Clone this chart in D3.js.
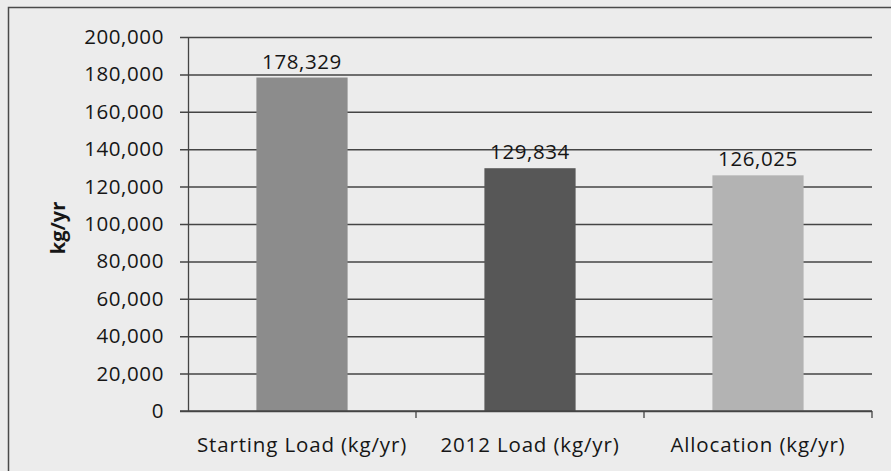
<!DOCTYPE html>
<html><head><meta charset="utf-8">
<script src="https://cdn.jsdelivr.net/npm/d3@7"></script>
<style>html,body{margin:0;padding:0;background:#eeeeee;}</style>
</head><body>
<svg id="chart" width="891" height="471"></svg>
<script>
const categories = ["Starting Load (kg/yr)", "2012 Load (kg/yr)", "Allocation (kg/yr)"];
const values = [178329, 129834, 126025];
const barColors = ["#8c8c8c", "#575757", "#b3b3b3"];
const yTicks = [0, 20000, 40000, 60000, 80000, 100000, 120000, 140000, 160000, 180000, 200000];
const yTitle = "kg/yr";

const svg = d3.select("#chart");
const W = 891, H = 471;
const m = {left: 188, right: 19, top: 37, bottom: 60};
const font = "'Open Sans', 'Lato', sans-serif";
const fs = 20.5, ls = 0.6;

svg.append("rect").attr("x", 0).attr("y", 0).attr("width", W).attr("height", H).attr("fill", "#ececec");
// outer border (top and left visible)
svg.append("path").attr("d", `M8.5,${H} L8.5,7.5 L${W},7.5`).attr("fill", "none").attr("stroke", "#4a4a4a").attr("stroke-width", 1.5);

const x = d3.scaleBand().domain(categories).range([m.left, W - m.right]).paddingInner(0.6).paddingOuter(0.3);
const y = d3.scaleLinear().domain([0, 200000]).range([H - m.bottom, m.top]);

// gridlines + y ticks
const yAxis = d3.axisLeft(y).tickValues(yTicks).tickSize(-(W - m.right - m.left)).tickSizeOuter(0).tickPadding(24)
  .tickFormat(d3.format(","));
const gy = svg.append("g").attr("transform", `translate(${m.left},0)`).call(yAxis);
gy.select(".domain").attr("stroke", "#444").attr("stroke-width", 1.3);
gy.selectAll(".tick line").attr("stroke", "#444").attr("stroke-width", 1.5).attr("x1", -8);
gy.selectAll(".tick text").attr("font-family", font).attr("font-size", fs).attr("letter-spacing", ls).attr("fill", "#161616");

// bars
svg.append("g").selectAll("rect").data(values).join("rect")
  .attr("x", (d, i) => x(categories[i]))
  .attr("width", x.bandwidth())
  .attr("y", d => y(d))
  .attr("height", d => y(0) - y(d))
  .attr("fill", (d, i) => barColors[i]);

// x axis
const xAxis = d3.axisBottom(x).tickSize(0).tickPadding(0);
const gx = svg.append("g").attr("transform", `translate(0,${y(0)})`).call(xAxis);
gx.select(".domain").remove();
gx.append("line").attr("x1", m.left - 8).attr("x2", W - m.right).attr("y1", 0).attr("y2", 0).attr("stroke", "#444").attr("stroke-width", 1.5);
const step = x.step();
const bounds = categories.map(c => x(c) - x.paddingInner() * step / 2 + step);
bounds.forEach(b => {
  gx.append("line").attr("x1", b).attr("x2", b).attr("y1", 0).attr("y2", 7).attr("stroke", "#444").attr("stroke-width", 1.3);
});
gx.selectAll(".tick text").attr("font-family", font).attr("font-size", fs).attr("letter-spacing", 0.85).attr("fill", "#161616").attr("dy", null).attr("y", 41);

// value labels
svg.append("g").selectAll("text").data(values).join("text")
  .attr("x", (d, i) => x(categories[i]) + x.bandwidth() / 2)
  .attr("y", d => y(d) - 9)
  .attr("text-anchor", "middle")
  .attr("font-family", font).attr("font-size", fs).attr("letter-spacing", ls).attr("fill", "#161616")
  .text(d => d3.format(",")(d));

// y title
svg.append("text").attr("transform", `translate(65,${(y(0) + y(200000)) / 2 + 4}) rotate(-90)`)
  .attr("text-anchor", "middle").attr("font-family", font).attr("font-weight", "bold").attr("font-size", 20).attr("fill", "#161616")
  .text(yTitle);
</script>
</body></html>
